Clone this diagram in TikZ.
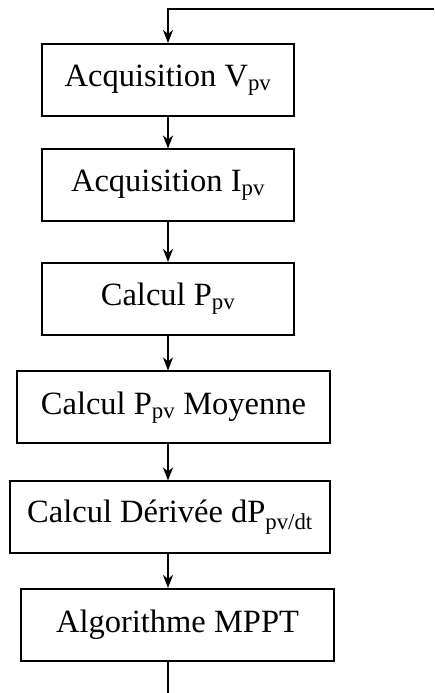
\documentclass[tikz,border=0pt]{standalone}
\usepackage{fontspec}
\setmainfont{Liberation Serif}
\usepackage{tikz}
\usetikzlibrary{arrows.meta, positioning}

\begin{document}
\begin{tikzpicture}[
  x=1pt, y=1pt,
  blk/.style={rectangle, draw=black, line width=2pt, fill=white,
              minimum height=72pt, inner sep=0pt, align=center,
              font=\fontsize{32.5}{38}\selectfont},
  arr/.style={-{Stealth[length=13pt, width=10pt, inset=4pt]}, line width=2pt},
  lnk/.style={line width=2pt}
]
  \useasboundingbox (0,0) rectangle (434,693);

  % Blocks
  \node[blk, minimum width=252pt] (acqv) at (168, 613) {Acquisition V\textsubscript{pv}};
  \node[blk, minimum width=252pt] (acqi) at (168, 507.5) {Acquisition I\textsubscript{pv}};
  \node[blk, minimum width=252pt] (calp) at (168, 394) {Calcul P\textsubscript{pv}};
  \node[blk, minimum width=313pt] (moy) at (173.5, 285.5) {Calcul P\textsubscript{pv} Moyenne};
  \node[blk, minimum width=320pt] (der) at (170, 175.5) {Calcul Dérivée dP\textsubscript{pv/dt}};
  \node[blk, minimum width=313pt] (mppt) at (177.5, 68) {Algorithme MPPT};

  % Loop ends
  \coordinate (ax) at (168, 0);
  \coordinate (ret) at (434, 684);

  % Flow
  \draw[arr] (ret) -- (ax |- ret) -- (acqv.north -| ax);
  \draw[arr] (acqv.south -| ax) -- (acqi.north -| ax);
  \draw[arr] (acqi.south -| ax) -- (calp.north -| ax);
  \draw[arr] (calp.south -| ax) -- (moy.north -| ax);
  \draw[arr] (moy.south -| ax) -- (der.north -| ax);
  \draw[arr] (der.south -| ax) -- (mppt.north -| ax);
  \draw[lnk] (mppt.south -| ax) -- (ax);
\end{tikzpicture}
\end{document}
